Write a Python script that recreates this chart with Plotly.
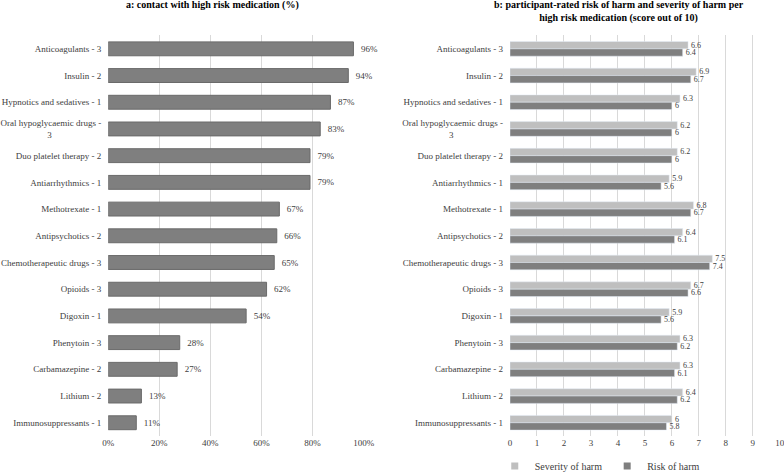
import plotly.graph_objects as go

medications = [
    "Anticoagulants - 3", "Insulin - 2", "Hypnotics and sedatives - 1",
    "Oral hypoglycaemic drugs -<br>3" + "\u00a0" * 22,
    "Duo platelet therapy - 2", "Antiarrhythmics - 1", "Methotrexate - 1",
    "Antipsychotics - 2", "Chemotherapeutic drugs - 3", "Opioids - 3",
    "Digoxin - 1", "Phenytoin - 3", "Carbamazepine - 2", "Lithium - 2",
    "Immunosuppressants - 1",
]
contact_pct = [96, 94, 87, 83, 79, 79, 67, 66, 65, 62, 54, 28, 27, 13, 11]
severity = [6.6, 6.9, 6.3, 6.2, 6.2, 5.9, 6.8, 6.4, 7.5, 6.7, 5.9, 6.3, 6.3, 6.4, 6.0]
risk = [6.4, 6.7, 6.0, 6.0, 6.0, 5.6, 6.7, 6.1, 7.4, 6.6, 5.6, 6.2, 6.1, 6.2, 5.8]

FONT = "Liberation Serif"
LIGHT = "#bfbfbf"
DARK = "#7f7f7f"

fig = go.Figure()

# panel a: contact with medication
fig.add_trace(go.Bar(
    y=medications, x=[v / 100 for v in contact_pct], orientation="h",
    marker=dict(color=DARK, line=dict(color="#6a6a6a", width=1)),
    text=[f"\u00a0\u00a0{v}%" for v in contact_pct], textposition="outside",
    textfont=dict(family=FONT, size=9, color="#404040"),
    constraintext="none", cliponaxis=False, width=0.52,
    xaxis="x", yaxis="y", showlegend=False,
))

# panel b: severity / risk of harm
fig.add_trace(go.Bar(
    y=medications, x=severity, orientation="h", name="Severity of harm",
    marker=dict(color=LIGHT),
    text=[f"{v:g}" for v in severity], textposition="outside",
    textfont=dict(family=FONT, size=8, color="#404040"),
    constraintext="none", cliponaxis=False, showlegend=False,
    xaxis="x2", yaxis="y2",
))
fig.add_trace(go.Bar(
    y=medications, x=risk, orientation="h", name="Risk of harm",
    marker=dict(color=DARK),
    text=[f"{v:g}" for v in risk], textposition="outside",
    textfont=dict(family=FONT, size=8, color="#404040"),
    constraintext="none", cliponaxis=False, showlegend=False,
    xaxis="x2", yaxis="y2",
))

# small square legend keys like the original
for name, col in [("Severity of harm", LIGHT), ("Risk of harm", DARK)]:
    fig.add_trace(go.Scatter(
        x=[None], y=[None], mode="markers", name=name,
        marker=dict(symbol="square", size=7, color=col),
        xaxis="x2", yaxis="y2",
    ))

axis_font = dict(family=FONT, size=9, color="#404040")

fig.update_layout(
    width=784, height=473,
    margin=dict(l=0, r=0, t=0, b=0, autoexpand=False),
    plot_bgcolor="white", paper_bgcolor="white",
    font=dict(family=FONT, size=9, color="#404040"),
    barmode="group", bargap=0.45, bargroupgap=0,
    xaxis=dict(domain=[0.138, 0.464], range=[0, 1.0005], dtick=0.2, tickformat=".0%",
               showgrid=True, gridcolor="#d9d9d9", zeroline=False, automargin=False,
               tickfont=axis_font, anchor="y", ticks=""),
    yaxis=dict(domain=[0.078, 0.925], autorange="reversed", anchor="x",
               tickfont=axis_font, showgrid=False, ticks="", ticklabelstandoff=6,
               automargin=False),
    xaxis2=dict(domain=[0.6505, 0.995], range=[0, 10.01], dtick=1, automargin=False,
                showgrid=True, gridcolor="#d9d9d9", zeroline=False,
                ticklabeloverflow="allow",
                tickfont=axis_font, anchor="y2", ticks=""),
    yaxis2=dict(domain=[0.078, 0.925], autorange="reversed", anchor="x2",
                tickfont=axis_font, showgrid=False, ticks="", ticklabelstandoff=6,
                automargin=False),
    legend=dict(orientation="h", x=0.765, xanchor="center", y=0.0148, yanchor="middle",
                font=dict(family=FONT, size=10, color="#404040"),
                itemwidth=30, tracegroupgap=0),
    annotations=[
        dict(text="<b>a: contact with high risk medication (%)</b>",
             x=0.271, y=1.006, xref="paper", yref="paper", xanchor="center",
             yanchor="top", showarrow=False,
             font=dict(family=FONT, size=10, color="#000000")),
        dict(text="<b>b: participant-rated risk of harm and severity of harm per<br>"
                  "high risk medication (score out of 10)</b>",
             x=0.79, y=1.006, xref="paper", yref="paper", xanchor="center",
             yanchor="top", showarrow=False,
             font=dict(family=FONT, size=10, color="#000000")),
    ],
)

# drop the default page margin so the figure sits at the window's corner
fig.write_html("out.html", config={"displayModeBar": False},
               post_script="document.body.style.margin='0';")
